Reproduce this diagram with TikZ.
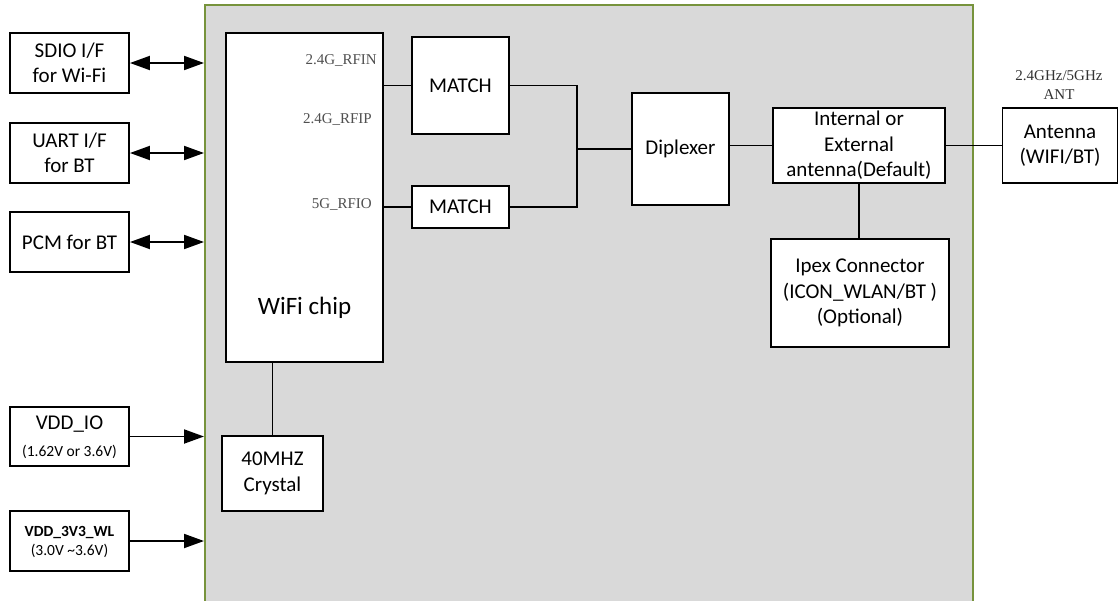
\documentclass[tikz,border=0pt]{standalone}
\usepackage{fontspec}
\setmainfont{Carlito}
\newfontfamily\pinfont{Liberation Serif}
\usetikzlibrary{arrows.meta}
\definecolor{panelfill}{HTML}{D9D9D9}
\definecolor{panelline}{HTML}{77933C}
\definecolor{pingray}{HTML}{505050}
\tikzset{
  blk/.style={draw=black, line width=1.9pt, fill=white, inner sep=0pt, align=center,
              font=\fontsize{21}{25.5}\selectfont},
  lbl/.style={inner sep=0pt, align=center},
  wire/.style={line width=1.9pt, draw=black},
  bus/.style={wire, {Triangle[length=20pt,width=14pt]}-{Triangle[length=20pt,width=14pt]}},
  feed/.style={wire, -{Triangle[length=20pt,width=14pt]}},
  pin/.style={font=\pinfont\fontsize{15}{18}\selectfont, text=pingray, inner sep=0pt},
}
\begin{document}
\begin{tikzpicture}[x=1pt,y=-1pt]
\useasboundingbox (0,0) rectangle (1118,600);
% module panel
\node[draw=panelline, fill=panelfill, line width=1.9pt, minimum width=768pt,
      minimum height=640pt, anchor=north west, inner sep=0pt] (panel) at (204,4) {};

% host side boxes
\node[blk, minimum width=119pt, minimum height=60pt] (sdio) at (69.5,63) {SDIO I/F\\for Wi-Fi};
\node[blk, minimum width=119pt, minimum height=60pt] (uart) at (69.5,153) {UART I/F\\for BT};
\node[blk, minimum width=119pt, minimum height=60pt] (pcm) at (69.5,242) {PCM for BT};
\node[blk, minimum width=119pt, minimum height=59pt] (vddio) at (69.5,436.5) {};
\node[lbl, font=\fontsize{21}{25}\selectfont] (vddiot) at (69.5,424) {VDD\_IO};
\node[lbl, font=\fontsize{15.5}{18}\selectfont] (vddiov) at (69.5,452) {(1.62V or 3.6V)};
\node[blk, minimum width=119pt, minimum height=60pt] (vddwl) at (69.5,541) {};
\node[lbl, font=\bfseries\fontsize{15.5}{18}\selectfont] (vddwlt) at (69.5,532) {VDD\_3V3\_WL};
\node[lbl, font=\fontsize{15.5}{18}\selectfont] (vddwlv) at (69.5,551) {(3.0V \textasciitilde3.6V)};

% chip
\node[blk, minimum width=157pt, minimum height=329pt] (chip) at (304.5,197.5) {};
\node[lbl, font=\fontsize{25}{30}\selectfont] (chipt) at (304.5,308) {WiFi chip};
\node[pin, anchor=east] (rfin) at (377,60) {2.4G\_RFIN};
\node[pin, anchor=east] (rfip) at (372,119) {2.4G\_RFIP};
\node[pin, anchor=east] (rfio) at (372,204) {5G\_RFIO};

% RF chain
\node[blk, minimum width=97pt, minimum height=97pt] (m1) at (460.5,85.5) {MATCH};
\node[blk, minimum width=97pt, minimum height=42pt] (m2) at (460.5,207) {MATCH};
\node[blk, minimum width=97pt, minimum height=112pt] (dip) at (680.5,149) {Diplexer};
\node[blk, minimum width=172pt, minimum height=75pt] (intl) at (859,145.5)
     {Internal or\\External\\antenna(Default)};
\node[blk, minimum width=115pt, minimum height=75pt] (ant) at (1060,145.5) {Antenna\\(WIFI/BT)};
\node[pin, text=black!80, align=center, font=\pinfont\fontsize{15}{19.5}\selectfont]
     (antt) at (1059,85) {2.4GHz/5GHz\\ANT};
\node[blk, minimum width=178pt, minimum height=108pt] (ipex) at (860,293)
     {Ipex Connector\\(ICON\_WLAN/BT )\\(Optional)};
\node[blk, minimum width=101pt, minimum height=75pt] (xtal) at (272.5,473.5) {40MHZ\\Crystal};
\coordinate (j) at (577,149);

% connectors
\draw[bus] (sdio.east) -- (sdio.east -| panel.west);
\draw[bus] (uart.east) -- (uart.east -| panel.west);
\draw[bus] (pcm.east) -- (pcm.east -| panel.west);
\draw[feed] (vddio.east) -- (vddio.east -| panel.west);
\draw[feed] (vddwl.east) -- (vddwl.east -| panel.west);
\draw[wire] (chip.east |- m1.west) -- (m1.west);
\draw[wire] (chip.east |- m2.west) -- (m2.west);
\draw[wire] (m1.east) -| (j) |- (m2.east);
\draw[wire] (j) -- (dip.west);
\draw[wire] (dip.east |- intl.west) -- (intl.west);
\draw[wire] (intl.east) -- (ant.west);
\draw[wire] (intl.south) -- (intl.south |- ipex.north);
\draw[wire] (xtal.north |- chip.south) -- (xtal.north);
\end{tikzpicture}
\end{document}
